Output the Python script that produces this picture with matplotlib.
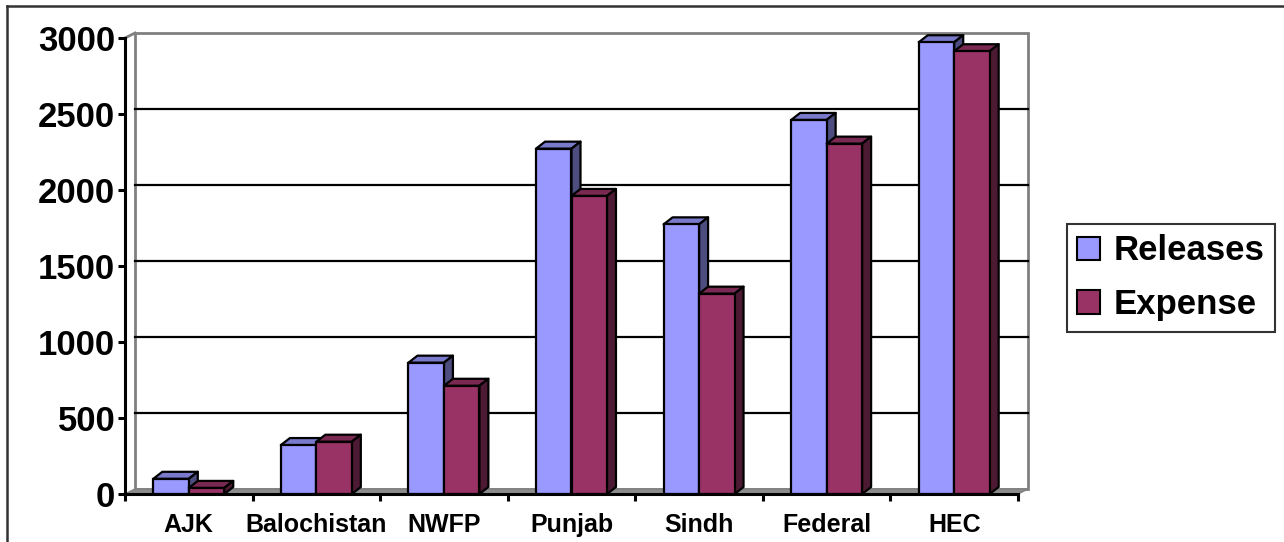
import matplotlib
matplotlib.use("Agg")
import matplotlib.pyplot as plt
from matplotlib.patches import Polygon, Patch, Rectangle
from matplotlib.lines import Line2D
import numpy as np

plt.rcParams['font.family'] = ['Liberation Sans', 'DejaVu Sans']
plt.rcParams['font.weight'] = 'bold'

categories = ["AJK", "Balochistan", "NWFP", "Punjab", "Sindh", "Federal", "HEC"]
releases = [100, 322, 864, 2272, 1774, 2461, 2972]
expense = [40, 344, 712, 1961, 1318, 2305, 2913]
series_names = ["Releases", "Expense"]
y_ticks = [0, 500, 1000, 1500, 2000, 2500, 3000]

# face colours: front, top, side
rel_colors = ("#9999FF", "#7A7ACC", "#4D4D80")
exp_colors = ("#993366", "#7A2952", "#4D1A33")

W, H = 1284, 542
fig = plt.figure(figsize=(W / 100, H / 100), dpi=100)
ax = fig.add_axes([125 / W, 48 / H, 893 / W, 456 / H])
ax.set_xlim(0, len(categories))
ax.set_ylim(0, 3000)
ax.patch.set_alpha(0)


def depth(dx_px, dy_px):
    """Convert a pixel offset to data units of the axes."""
    ox, oy = ax.transData.transform((0, 0))
    inv = ax.transData.inverted()
    x, y = inv.transform((ox + dx_px, oy + dy_px))
    return x, y


n = len(categories)
wdx, wdy = depth(10, 5)      # back wall offset
bdx, bdy = depth(9, 7)       # bar depth
bar_w = 0.278
edge_lw = 1.6

# back wall
wall = Rectangle((wdx, wdy), n, 3000, facecolor="white", edgecolor="#808080",
                 lw=2, clip_on=False, zorder=1)
ax.add_patch(wall)
# side wall top edge
ax.plot([0, wdx], [3000, 3000 + wdy], color="#808080", lw=2, clip_on=False, zorder=1)
# gridlines on back wall
for v in y_ticks[1:-1]:
    ax.plot([wdx, n + wdx], [v + wdy, v + wdy], color="black", lw=1.6,
            clip_on=False, zorder=1.5)
# floor
floor = Polygon([(0, 0), (n, 0), (n + wdx, wdy), (wdx, wdy)], closed=True,
                facecolor="#8c8c8c", edgecolor="#808080", lw=1, clip_on=False, zorder=2)
ax.add_patch(floor)


def draw_bars(x_left, values, colors, z):
    front, top, side = colors
    for x0, v in zip(x_left, values):
        x1 = x0 + bar_w
        ax.add_patch(Polygon([(x0, v), (x0 + bdx, v + bdy), (x1 + bdx, v + bdy), (x1, v)],
                             closed=True, facecolor=top, edgecolor="black", lw=edge_lw,
                             joinstyle="round", clip_on=False, zorder=z))
        ax.add_patch(Polygon([(x1, 0), (x1, v), (x1 + bdx, v + bdy), (x1 + bdx, bdy)],
                             closed=True, facecolor=side, edgecolor="black", lw=edge_lw,
                             joinstyle="round", clip_on=False, zorder=z))
    ax.bar(x_left, values, width=bar_w, align="edge", color=front,
           edgecolor="black", lw=edge_lw, zorder=z + 0.1, clip_on=False)


centers = np.arange(n) + 0.5
draw_bars(centers - bar_w, releases, rel_colors, 3)
draw_bars(centers, expense, exp_colors, 4)

# axes styling
for s in ("top", "right"):
    ax.spines[s].set_visible(False)
for s in ("left", "bottom"):
    ax.spines[s].set_linewidth(2.2)
    ax.spines[s].set_zorder(6)
ax.set_yticks(y_ticks)
ax.set_yticklabels([str(v) for v in y_ticks], fontsize=25, fontweight="bold")
ax.tick_params(axis="y", length=5, width=2.2, pad=2)
ax.set_xticks(centers)
ax.set_xticklabels(categories, fontsize=18, fontweight="bold")
ax.set_xticks(np.arange(n + 1), minor=True)
ax.tick_params(axis="x", which="major", length=0, pad=14)
ax.tick_params(axis="x", which="minor", length=5, width=2.2)

# legend
handles = [Patch(facecolor=rel_colors[0], edgecolor="black", lw=1.5),
           Patch(facecolor=exp_colors[0], edgecolor="black", lw=1.5)]
leg = fig.legend(handles, series_names, loc="upper left",
                 bbox_to_anchor=(1067 / W, 1 - 224 / H),
                 prop={"family": "Liberation Sans", "weight": "bold", "size": 25},
                 frameon=True, fancybox=False, edgecolor="black",
                 handlelength=0.66, handleheight=0.66, handletextpad=0.38,
                 labelspacing=0.6, borderpad=0.3, borderaxespad=0)
leg.get_frame().set_linewidth(1.5)

# outer frame
fig.add_artist(Line2D([7 / W, 7 / W], [0, 1 - 6 / H], color="#333333", lw=1.8))
fig.add_artist(Line2D([7 / W, 1], [1 - 6 / H, 1 - 6 / H], color="#333333", lw=1.8))

fig.savefig("out.png", dpi=100, facecolor="white")
